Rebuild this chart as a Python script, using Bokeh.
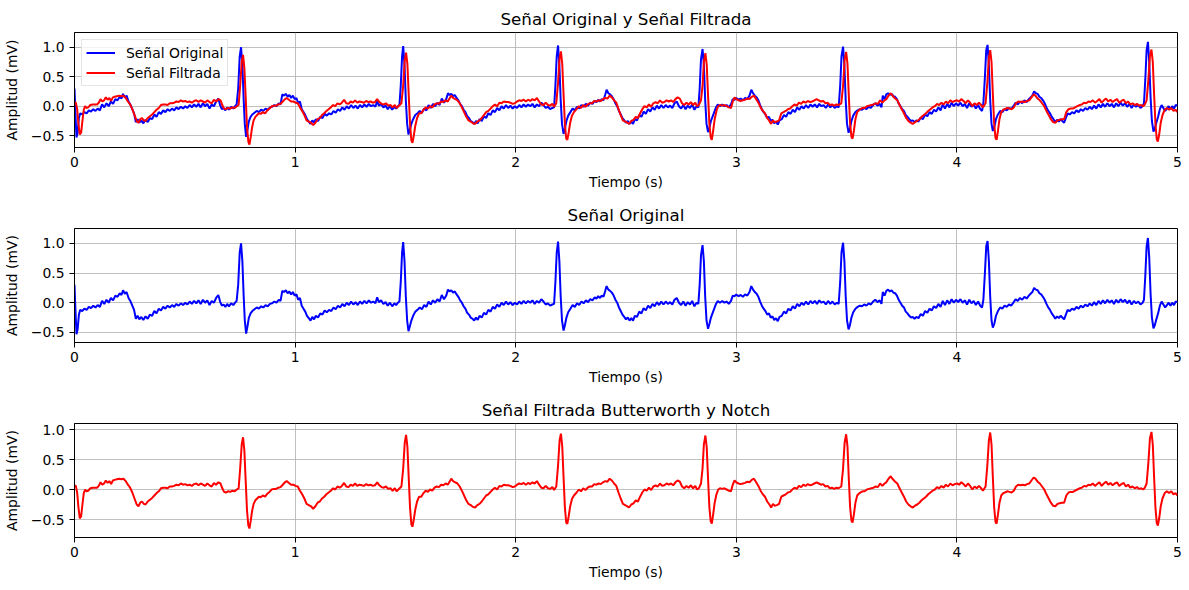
from bokeh.embed import file_html
from bokeh.layouts import column
from bokeh.models import CustomJSTickFormatter, FixedTicker, Range1d
from bokeh.plotting import figure
from bokeh.resources import INLINE

# (tiempo en s, amplitud en mV), leído punto a punto de la figura
original_pts = [
    (0.000, 0.30), (0.004, -0.10), (0.009, -0.53), (0.014, -0.45), (0.020, -0.20), (0.026, -0.12), (0.035, -0.14), (0.045, -0.10),
    (0.055, -0.12), (0.065, -0.07), (0.075, -0.09), (0.085, -0.05), (0.095, -0.08), (0.105, -0.04), (0.115, -0.07), (0.125, 0.03),
    (0.135, -0.02), (0.145, 0.05), (0.155, 0.00), (0.165, 0.08), (0.175, 0.04), (0.185, 0.12), (0.195, 0.10), (0.205, 0.16),
    (0.213, 0.13), (0.220, 0.21), (0.228, 0.15), (0.236, 0.18), (0.245, 0.08), (0.253, 0.03), (0.262, -0.05), (0.270, -0.12),
    (0.278, -0.27), (0.286, -0.22), (0.294, -0.28), (0.303, -0.24), (0.312, -0.29), (0.322, -0.23), (0.332, -0.27), (0.342, -0.20),
    (0.352, -0.22), (0.362, -0.14), (0.372, -0.18), (0.382, -0.10), (0.392, -0.13), (0.402, -0.07), (0.412, -0.10), (0.422, -0.05),
    (0.432, -0.08), (0.442, -0.04), (0.452, -0.07), (0.462, -0.02), (0.472, -0.05), (0.482, -0.01), (0.492, -0.04), (0.502, 0.00),
    (0.512, -0.03), (0.522, 0.02), (0.532, -0.02), (0.542, 0.03), (0.552, -0.01), (0.562, 0.04), (0.572, -0.02), (0.582, 0.05),
    (0.592, 0.00), (0.602, 0.04), (0.612, -0.04), (0.622, 0.03), (0.632, 0.00), (0.642, 0.08), (0.652, 0.13), (0.660, 0.02),
    (0.668, -0.05), (0.676, -0.03), (0.684, -0.07), (0.692, -0.02), (0.700, -0.06), (0.710, -0.01), (0.720, -0.04), (0.728, 0.00),
    (0.735, 0.03), (0.742, 0.30), (0.749, 0.85), (0.755, 1.00), (0.761, 0.70), (0.767, 0.10), (0.772, -0.30), (0.778, -0.52),
    (0.784, -0.40), (0.790, -0.26), (0.798, -0.18), (0.806, -0.14), (0.816, -0.11), (0.826, -0.08), (0.836, -0.10), (0.846, -0.06),
    (0.856, -0.08), (0.866, -0.04), (0.876, -0.06), (0.886, -0.02), (0.896, -0.01), (0.906, 0.02), (0.916, 0.00), (0.926, 0.05),
    (0.934, 0.03), (0.942, 0.20), (0.950, 0.18), (0.958, 0.21), (0.966, 0.16), (0.974, 0.19), (0.982, 0.14), (0.990, 0.18),
    (0.998, 0.12), (1.006, 0.14), (1.014, 0.05), (1.022, 0.08), (1.030, -0.05), (1.038, -0.10), (1.046, -0.15), (1.054, -0.22),
    (1.062, -0.26), (1.070, -0.30), (1.078, -0.24), (1.086, -0.28), (1.094, -0.22), (1.104, -0.25), (1.114, -0.18), (1.124, -0.20),
    (1.134, -0.13), (1.144, -0.16), (1.154, -0.12), (1.164, -0.14), (1.174, -0.08), (1.184, -0.11), (1.194, -0.05), (1.204, -0.08),
    (1.214, -0.02), (1.224, -0.06), (1.234, 0.00), (1.244, -0.04), (1.254, 0.02), (1.264, -0.03), (1.274, 0.01), (1.284, -0.04),
    (1.294, 0.02), (1.304, -0.02), (1.314, 0.03), (1.324, -0.01), (1.334, 0.04), (1.344, 0.00), (1.354, 0.02), (1.364, -0.01),
    (1.372, 0.09), (1.380, 0.01), (1.390, 0.04), (1.400, -0.02), (1.410, 0.01), (1.420, -0.05), (1.430, 0.00), (1.440, -0.06),
    (1.450, -0.01), (1.458, -0.04), (1.466, 0.00), (1.473, 0.02), (1.479, 0.35), (1.485, 0.85), (1.490, 1.02), (1.496, 0.70),
    (1.502, 0.10), (1.508, -0.30), (1.514, -0.48), (1.520, -0.40), (1.527, -0.30), (1.535, -0.22), (1.545, -0.15), (1.555, -0.12),
    (1.565, -0.08), (1.575, -0.11), (1.585, -0.04), (1.595, -0.07), (1.605, 0.02), (1.615, -0.03), (1.625, 0.04), (1.635, 0.00),
    (1.645, 0.06), (1.655, 0.02), (1.665, 0.13), (1.675, 0.06), (1.685, 0.12), (1.693, 0.22), (1.700, 0.19), (1.708, 0.21),
    (1.716, 0.17), (1.724, 0.19), (1.732, 0.14), (1.740, 0.10), (1.748, 0.04), (1.756, 0.00), (1.764, -0.06), (1.772, -0.10),
    (1.780, -0.17), (1.788, -0.20), (1.796, -0.25), (1.804, -0.27), (1.812, -0.30), (1.820, -0.25), (1.828, -0.29), (1.836, -0.22),
    (1.846, -0.25), (1.856, -0.17), (1.866, -0.20), (1.876, -0.12), (1.886, -0.15), (1.896, -0.07), (1.906, -0.10), (1.916, -0.03),
    (1.926, -0.07), (1.936, 0.00), (1.946, -0.04), (1.956, 0.02), (1.966, -0.03), (1.976, 0.01), (1.986, -0.04), (1.996, 0.00),
    (2.006, -0.03), (2.016, 0.02), (2.026, -0.02), (2.036, 0.03), (2.046, -0.01), (2.056, 0.03), (2.066, 0.00), (2.076, 0.04),
    (2.086, -0.02), (2.096, 0.03), (2.106, 0.00), (2.116, 0.06), (2.126, 0.02), (2.136, -0.03), (2.146, -0.01), (2.156, -0.05),
    (2.166, -0.03), (2.174, -0.02), (2.180, 0.35), (2.186, 0.85), (2.192, 1.03), (2.198, 0.70), (2.204, 0.10), (2.210, -0.30),
    (2.217, -0.47), (2.223, -0.38), (2.230, -0.25), (2.238, -0.16), (2.248, -0.10), (2.258, -0.04), (2.268, -0.07), (2.278, -0.01),
    (2.288, -0.04), (2.298, 0.02), (2.308, -0.01), (2.318, 0.04), (2.328, 0.01), (2.338, 0.06), (2.348, 0.04), (2.358, 0.09),
    (2.366, 0.07), (2.374, 0.11), (2.382, 0.08), (2.390, 0.12), (2.398, 0.10), (2.406, 0.20), (2.412, 0.28), (2.420, 0.22),
    (2.428, 0.20), (2.436, 0.17), (2.444, 0.12), (2.452, 0.05), (2.460, 0.00), (2.468, -0.08), (2.476, -0.14), (2.484, -0.20),
    (2.492, -0.24), (2.500, -0.28), (2.508, -0.25), (2.516, -0.30), (2.524, -0.26), (2.532, -0.30), (2.540, -0.22), (2.550, -0.24),
    (2.560, -0.15), (2.570, -0.18), (2.580, -0.09), (2.590, -0.13), (2.600, -0.05), (2.610, -0.09), (2.620, -0.02), (2.630, -0.06),
    (2.640, 0.01), (2.650, -0.04), (2.660, 0.02), (2.670, -0.03), (2.680, 0.02), (2.690, -0.02), (2.700, 0.01), (2.710, -0.03),
    (2.720, 0.05), (2.730, 0.08), (2.740, 0.00), (2.750, -0.04), (2.760, 0.02), (2.770, -0.05), (2.780, 0.01), (2.790, -0.03),
    (2.800, 0.03), (2.810, -0.06), (2.820, 0.00), (2.828, -0.02), (2.834, 0.30), (2.840, 0.80), (2.847, 0.97), (2.853, 0.70),
    (2.859, 0.10), (2.865, -0.30), (2.872, -0.44), (2.878, -0.36), (2.885, -0.25), (2.892, -0.18), (2.900, -0.10), (2.908, -0.02),
    (2.916, 0.03), (2.926, 0.00), (2.936, 0.03), (2.946, 0.00), (2.956, 0.02), (2.966, -0.02), (2.976, 0.03), (2.984, 0.12),
    (2.992, 0.11), (3.000, 0.14), (3.010, 0.11), (3.020, 0.13), (3.030, 0.10), (3.040, 0.14), (3.050, 0.12), (3.060, 0.18),
    (3.068, 0.28), (3.076, 0.22), (3.084, 0.18), (3.092, 0.15), (3.100, 0.10), (3.108, 0.02), (3.116, -0.05), (3.124, -0.10),
    (3.132, -0.14), (3.140, -0.20), (3.148, -0.18), (3.156, -0.25), (3.164, -0.23), (3.172, -0.29), (3.180, -0.26), (3.188, -0.31),
    (3.196, -0.24), (3.206, -0.22), (3.216, -0.15), (3.226, -0.18), (3.236, -0.10), (3.246, -0.13), (3.256, -0.06), (3.266, -0.10),
    (3.276, -0.02), (3.286, -0.06), (3.296, 0.00), (3.306, -0.04), (3.316, 0.02), (3.326, -0.03), (3.336, 0.03), (3.346, -0.01),
    (3.356, 0.03), (3.366, -0.02), (3.376, 0.04), (3.386, 0.00), (3.396, 0.02), (3.406, -0.03), (3.416, 0.03), (3.426, -0.02),
    (3.436, 0.02), (3.446, -0.03), (3.456, 0.00), (3.464, -0.02), (3.471, 0.35), (3.477, 0.85), (3.484, 1.01), (3.490, 0.70),
    (3.496, 0.10), (3.502, -0.30), (3.509, -0.45), (3.515, -0.38), (3.522, -0.25), (3.530, -0.16), (3.540, -0.10), (3.550, -0.07),
    (3.560, -0.05), (3.570, -0.06), (3.580, -0.03), (3.590, -0.05), (3.600, -0.01), (3.610, -0.03), (3.620, 0.02), (3.630, 0.05),
    (3.640, 0.01), (3.650, 0.04), (3.658, -0.02), (3.664, 0.18), (3.672, 0.12), (3.680, 0.20), (3.688, 0.22), (3.696, 0.19),
    (3.704, 0.21), (3.712, 0.17), (3.720, 0.16), (3.728, 0.12), (3.736, 0.05), (3.744, 0.00), (3.752, -0.05), (3.760, -0.08),
    (3.768, -0.15), (3.776, -0.18), (3.784, -0.22), (3.792, -0.25), (3.800, -0.24), (3.808, -0.27), (3.816, -0.24), (3.826, -0.26),
    (3.836, -0.19), (3.846, -0.22), (3.856, -0.14), (3.866, -0.17), (3.876, -0.10), (3.886, -0.13), (3.896, -0.06), (3.906, -0.09),
    (3.916, -0.02), (3.926, -0.07), (3.936, 0.03), (3.946, -0.04), (3.956, 0.04), (3.966, -0.02), (3.976, 0.06), (3.986, 0.00),
    (3.996, 0.05), (4.006, 0.01), (4.016, 0.06), (4.026, 0.00), (4.036, 0.04), (4.046, -0.03), (4.056, 0.05), (4.066, -0.01),
    (4.076, 0.03), (4.086, -0.04), (4.096, 0.02), (4.106, -0.05), (4.114, -0.08), (4.120, 0.05), (4.127, 0.50), (4.133, 0.95),
    (4.139, 1.04), (4.145, 0.70), (4.151, 0.10), (4.157, -0.30), (4.163, -0.42), (4.170, -0.35), (4.177, -0.22), (4.186, -0.14),
    (4.196, -0.08), (4.206, -0.10), (4.216, -0.05), (4.226, -0.07), (4.236, -0.03), (4.246, -0.05), (4.256, 0.00), (4.266, 0.06),
    (4.276, 0.03), (4.286, 0.08), (4.296, 0.05), (4.306, 0.10), (4.316, 0.07), (4.326, 0.12), (4.334, 0.15), (4.342, 0.18),
    (4.350, 0.25), (4.358, 0.22), (4.366, 0.21), (4.374, 0.16), (4.382, 0.14), (4.390, 0.10), (4.398, 0.05), (4.406, -0.02),
    (4.414, -0.08), (4.422, -0.12), (4.430, -0.18), (4.438, -0.22), (4.446, -0.27), (4.454, -0.23), (4.462, -0.26), (4.470, -0.22),
    (4.478, -0.25), (4.486, -0.28), (4.494, -0.20), (4.502, -0.12), (4.512, -0.14), (4.522, -0.10), (4.532, -0.12), (4.542, -0.07),
    (4.552, -0.10), (4.562, -0.05), (4.572, -0.08), (4.582, -0.03), (4.592, -0.06), (4.602, -0.01), (4.612, -0.05), (4.622, 0.01),
    (4.632, -0.04), (4.642, 0.03), (4.652, -0.02), (4.662, 0.04), (4.672, -0.01), (4.682, 0.05), (4.692, 0.00), (4.702, 0.04),
    (4.712, -0.02), (4.722, 0.05), (4.732, 0.00), (4.742, 0.06), (4.752, 0.01), (4.762, 0.05), (4.772, -0.01), (4.782, 0.04),
    (4.792, -0.03), (4.802, 0.03), (4.812, -0.01), (4.822, 0.02), (4.832, -0.03), (4.842, 0.00), (4.848, 0.05), (4.854, 0.45),
    (4.860, 0.95), (4.866, 1.09), (4.872, 0.75), (4.878, 0.15), (4.884, -0.25), (4.891, -0.43), (4.897, -0.38), (4.904, -0.28),
    (4.912, -0.18), (4.920, -0.05), (4.928, 0.02), (4.936, -0.03), (4.944, -0.08), (4.952, -0.04), (4.960, 0.00), (4.968, -0.05),
    (4.976, 0.00), (4.984, -0.04), (4.992, 0.02), (5.000, 0.01),
]

filtered_pts = [
    (0.000, 0.07), (0.006, 0.06), (0.012, -0.05), (0.018, -0.30), (0.024, -0.48), (0.030, -0.45), (0.036, -0.25), (0.042, -0.06),
    (0.048, 0.00), (0.054, -0.03), (0.062, -0.02), (0.072, 0.02), (0.082, 0.03), (0.092, 0.03), (0.102, 0.03), (0.110, 0.06),
    (0.118, 0.12), (0.126, 0.08), (0.134, 0.10), (0.142, 0.15), (0.150, 0.11), (0.158, 0.14), (0.166, 0.09), (0.174, 0.15),
    (0.182, 0.16), (0.192, 0.17), (0.202, 0.18), (0.212, 0.17), (0.222, 0.18), (0.232, 0.14), (0.242, 0.08), (0.252, 0.03),
    (0.262, -0.05), (0.272, -0.15), (0.282, -0.25), (0.290, -0.28), (0.298, -0.22), (0.306, -0.20), (0.314, -0.24), (0.322, -0.25),
    (0.332, -0.20), (0.342, -0.17), (0.352, -0.14), (0.362, -0.10), (0.372, -0.06), (0.382, -0.03), (0.392, 0.02), (0.402, 0.03),
    (0.412, 0.03), (0.422, 0.02), (0.432, 0.05), (0.442, 0.05), (0.452, 0.06), (0.462, 0.08), (0.472, 0.07), (0.482, 0.10),
    (0.492, 0.08), (0.502, 0.09), (0.512, 0.07), (0.522, 0.08), (0.532, 0.06), (0.542, 0.09), (0.552, 0.10), (0.562, 0.07),
    (0.572, 0.10), (0.582, 0.08), (0.592, 0.06), (0.602, 0.10), (0.612, 0.07), (0.622, 0.05), (0.632, 0.11), (0.642, 0.08),
    (0.652, 0.12), (0.662, 0.10), (0.670, 0.02), (0.678, -0.04), (0.686, -0.05), (0.696, -0.03), (0.706, -0.04), (0.716, -0.02),
    (0.726, -0.03), (0.736, 0.00), (0.744, 0.02), (0.751, 0.35), (0.758, 0.75), (0.764, 0.87), (0.770, 0.65), (0.776, 0.15),
    (0.782, -0.35), (0.788, -0.60), (0.793, -0.65), (0.799, -0.52), (0.805, -0.36), (0.812, -0.24), (0.820, -0.18), (0.828, -0.15),
    (0.836, -0.12), (0.844, -0.13), (0.854, -0.10), (0.864, -0.12), (0.874, -0.07), (0.884, -0.04), (0.894, 0.00), (0.904, 0.01),
    (0.914, 0.01), (0.924, 0.03), (0.934, 0.04), (0.944, 0.08), (0.954, 0.12), (0.962, 0.14), (0.972, 0.11), (0.982, 0.08),
    (0.992, 0.08), (1.002, 0.06), (1.012, 0.05), (1.022, -0.02), (1.032, -0.08), (1.042, -0.15), (1.052, -0.24), (1.062, -0.26),
    (1.072, -0.28), (1.082, -0.32), (1.092, -0.28), (1.102, -0.22), (1.112, -0.20), (1.122, -0.15), (1.132, -0.12), (1.142, -0.08),
    (1.152, -0.05), (1.162, -0.02), (1.172, 0.02), (1.182, 0.00), (1.192, 0.05), (1.202, 0.03), (1.212, 0.06), (1.222, 0.11),
    (1.232, 0.05), (1.242, 0.04), (1.252, 0.08), (1.262, 0.06), (1.272, 0.10), (1.282, 0.06), (1.292, 0.08), (1.302, 0.07),
    (1.312, 0.06), (1.322, 0.09), (1.332, 0.07), (1.342, 0.08), (1.352, 0.06), (1.362, 0.07), (1.372, 0.12), (1.382, 0.07),
    (1.392, 0.04), (1.402, 0.03), (1.412, 0.05), (1.422, 0.01), (1.432, 0.02), (1.442, -0.02), (1.452, 0.02), (1.460, -0.03),
    (1.468, 0.00), (1.482, 0.05), (1.490, 0.35), (1.497, 0.78), (1.503, 0.91), (1.509, 0.72), (1.515, 0.20), (1.521, -0.30),
    (1.527, -0.58), (1.532, -0.62), (1.538, -0.50), (1.545, -0.33), (1.553, -0.20), (1.562, -0.12), (1.572, -0.12), (1.582, -0.06),
    (1.592, -0.02), (1.602, -0.04), (1.612, 0.00), (1.622, -0.02), (1.632, 0.03), (1.642, 0.05), (1.652, 0.04), (1.662, 0.08),
    (1.672, 0.07), (1.682, 0.10), (1.692, 0.08), (1.700, 0.13), (1.708, 0.18), (1.716, 0.14), (1.726, 0.12), (1.736, 0.10),
    (1.746, 0.05), (1.756, -0.02), (1.766, -0.10), (1.776, -0.18), (1.786, -0.24), (1.796, -0.26), (1.806, -0.29), (1.816, -0.30),
    (1.826, -0.26), (1.836, -0.24), (1.846, -0.20), (1.856, -0.15), (1.866, -0.10), (1.876, -0.08), (1.886, -0.04), (1.896, 0.00),
    (1.906, 0.03), (1.916, 0.00), (1.926, 0.06), (1.936, 0.05), (1.946, 0.08), (1.956, 0.07), (1.966, 0.07), (1.976, 0.06),
    (1.986, 0.04), (1.996, 0.05), (2.006, 0.08), (2.016, 0.10), (2.026, 0.09), (2.036, 0.11), (2.046, 0.08), (2.056, 0.11),
    (2.066, 0.09), (2.076, 0.12), (2.086, 0.10), (2.096, 0.14), (2.106, 0.08), (2.116, 0.03), (2.126, 0.02), (2.136, 0.06),
    (2.146, 0.02), (2.156, 0.01), (2.166, 0.04), (2.174, -0.01), (2.184, 0.05), (2.192, 0.40), (2.199, 0.82), (2.205, 0.93),
    (2.211, 0.72), (2.217, 0.20), (2.223, -0.30), (2.229, -0.55), (2.234, -0.57), (2.240, -0.45), (2.247, -0.28), (2.255, -0.16),
    (2.264, -0.10), (2.276, -0.05), (2.286, 0.00), (2.296, -0.03), (2.306, 0.02), (2.316, -0.01), (2.326, 0.03), (2.336, 0.05),
    (2.346, 0.05), (2.356, 0.09), (2.366, 0.08), (2.376, 0.10), (2.386, 0.09), (2.396, 0.12), (2.406, 0.14), (2.416, 0.13),
    (2.426, 0.18), (2.436, 0.15), (2.446, 0.10), (2.456, 0.06), (2.466, -0.05), (2.476, -0.15), (2.486, -0.24), (2.496, -0.26),
    (2.506, -0.28), (2.514, -0.30), (2.524, -0.25), (2.534, -0.23), (2.544, -0.18), (2.554, -0.20), (2.564, -0.12), (2.574, -0.05),
    (2.584, 0.00), (2.594, -0.02), (2.604, 0.03), (2.614, -0.01), (2.624, 0.05), (2.634, 0.07), (2.644, 0.05), (2.654, 0.10),
    (2.664, 0.06), (2.674, 0.07), (2.684, 0.10), (2.694, 0.08), (2.704, 0.10), (2.714, 0.07), (2.724, 0.12), (2.734, 0.15),
    (2.744, 0.13), (2.754, 0.05), (2.764, 0.02), (2.774, 0.06), (2.784, 0.03), (2.794, 0.07), (2.804, 0.02), (2.814, 0.06),
    (2.822, 0.00), (2.830, 0.02), (2.840, 0.10), (2.847, 0.35), (2.853, 0.75), (2.860, 0.90), (2.866, 0.70), (2.872, 0.18),
    (2.878, -0.30), (2.884, -0.53), (2.889, -0.57), (2.895, -0.42), (2.902, -0.22), (2.910, -0.08), (2.918, 0.00), (2.926, 0.02),
    (2.936, 0.01), (2.946, 0.02), (2.956, 0.00), (2.966, -0.02), (2.976, -0.03), (2.984, 0.08), (2.992, 0.15), (3.000, 0.12),
    (3.010, 0.10), (3.020, 0.09), (3.030, 0.10), (3.040, 0.11), (3.050, 0.13), (3.060, 0.12), (3.070, 0.16), (3.080, 0.18),
    (3.090, 0.12), (3.100, 0.06), (3.110, -0.02), (3.120, -0.08), (3.130, -0.12), (3.140, -0.20), (3.150, -0.25), (3.158, -0.30),
    (3.166, -0.24), (3.174, -0.27), (3.184, -0.26), (3.194, -0.24), (3.204, -0.12), (3.214, -0.10), (3.224, -0.08), (3.234, -0.05),
    (3.244, -0.04), (3.254, 0.00), (3.264, 0.03), (3.274, 0.01), (3.284, 0.06), (3.294, 0.04), (3.304, 0.08), (3.314, 0.06),
    (3.324, 0.09), (3.334, 0.07), (3.344, 0.08), (3.354, 0.10), (3.364, 0.12), (3.374, 0.10), (3.384, 0.08), (3.394, 0.09),
    (3.404, 0.05), (3.414, 0.06), (3.424, 0.02), (3.434, 0.03), (3.444, 0.01), (3.454, 0.03), (3.462, 0.02), (3.476, 0.05),
    (3.484, 0.35), (3.491, 0.78), (3.498, 0.92), (3.504, 0.72), (3.510, 0.18), (3.516, -0.30), (3.522, -0.52), (3.527, -0.55),
    (3.533, -0.42), (3.540, -0.22), (3.548, -0.10), (3.558, -0.06), (3.572, -0.03), (3.582, -0.03), (3.592, 0.00), (3.602, 0.01),
    (3.612, 0.02), (3.622, 0.03), (3.632, 0.05), (3.642, 0.04), (3.652, 0.10), (3.662, 0.06), (3.672, 0.10), (3.680, 0.12),
    (3.690, 0.18), (3.700, 0.22), (3.710, 0.17), (3.720, 0.13), (3.730, 0.10), (3.740, 0.02), (3.750, -0.05), (3.760, -0.12),
    (3.770, -0.20), (3.780, -0.25), (3.790, -0.28), (3.800, -0.30), (3.810, -0.27), (3.820, -0.25), (3.830, -0.22), (3.840, -0.18),
    (3.850, -0.15), (3.860, -0.12), (3.870, -0.08), (3.880, -0.05), (3.890, -0.02), (3.900, 0.00), (3.910, 0.04), (3.920, 0.02),
    (3.930, 0.06), (3.940, 0.03), (3.950, 0.08), (3.960, 0.05), (3.970, 0.10), (3.980, 0.07), (3.990, 0.09), (4.000, 0.10),
    (4.010, 0.08), (4.020, 0.12), (4.030, 0.09), (4.040, 0.05), (4.050, 0.10), (4.060, 0.06), (4.070, 0.00), (4.080, 0.05),
    (4.090, 0.02), (4.100, 0.06), (4.110, 0.02), (4.118, -0.02), (4.130, 0.05), (4.138, 0.40), (4.145, 0.82), (4.151, 0.95),
    (4.157, 0.75), (4.163, 0.20), (4.169, -0.30), (4.175, -0.54), (4.180, -0.57), (4.186, -0.42), (4.193, -0.22), (4.201, -0.10),
    (4.210, -0.06), (4.218, -0.05), (4.228, -0.03), (4.238, -0.04), (4.248, -0.05), (4.258, -0.02), (4.268, 0.05), (4.278, 0.08),
    (4.288, 0.07), (4.298, 0.08), (4.308, 0.07), (4.318, 0.09), (4.328, 0.10), (4.338, 0.15), (4.348, 0.20), (4.356, 0.18),
    (4.366, 0.13), (4.376, 0.10), (4.386, 0.05), (4.396, 0.00), (4.406, -0.08), (4.416, -0.15), (4.426, -0.22), (4.436, -0.27),
    (4.446, -0.28), (4.456, -0.24), (4.466, -0.23), (4.476, -0.22), (4.486, -0.22), (4.496, -0.10), (4.506, -0.05), (4.516, -0.04),
    (4.526, -0.04), (4.536, -0.02), (4.546, 0.00), (4.556, 0.02), (4.566, 0.03), (4.576, 0.06), (4.586, 0.05), (4.596, 0.08),
    (4.606, 0.07), (4.616, 0.10), (4.626, 0.06), (4.636, 0.09), (4.646, 0.12), (4.656, 0.06), (4.666, 0.10), (4.676, 0.13),
    (4.686, 0.08), (4.696, 0.11), (4.706, 0.07), (4.716, 0.10), (4.726, 0.12), (4.736, 0.06), (4.746, 0.09), (4.756, 0.11),
    (4.766, 0.05), (4.776, 0.08), (4.786, 0.03), (4.796, 0.05), (4.806, 0.02), (4.816, 0.04), (4.826, 0.01), (4.836, 0.02),
    (4.844, 0.00), (4.852, 0.03), (4.860, 0.10), (4.868, 0.45), (4.875, 0.85), (4.882, 0.96), (4.888, 0.75), (4.894, 0.20),
    (4.900, -0.30), (4.906, -0.56), (4.911, -0.60), (4.917, -0.48), (4.924, -0.28), (4.932, -0.15), (4.942, -0.06), (4.952, -0.03),
    (4.962, -0.06), (4.972, -0.03), (4.982, -0.08), (4.991, -0.06), (5.000, -0.10),
]

t_orig = [p[0] for p in original_pts]
v_orig = [p[1] for p in original_pts]
t_filt = [p[0] for p in filtered_pts]
v_filt = [p[1] for p in filtered_pts]

x_ticks = [0, 1, 2, 3, 4, 5]
y_ticks = [-0.5, 0.0, 0.5, 1.0]

FONT = "DejaVu Sans"


def make_fig(title, y_lo, y_hi, top, bottom):
    p = figure(width=1189, height=top + 115 + bottom,
               x_range=Range1d(0, 5), y_range=Range1d(y_lo, y_hi),
               toolbar_location=None, output_backend="svg",
               min_border_left=73, min_border_right=12,
               min_border_top=top, min_border_bottom=bottom)
    p.title.text = title
    p.title.align = "center"
    p.title.text_font = FONT
    p.title.text_font_size = "16.7px"
    p.title.text_font_style = "normal"
    p.title.text_color = "black"
    p.title.standoff = 8
    p.outline_line_color = "black"
    p.outline_line_width = 1
    p.grid.grid_line_color = "#b0b0b0"
    p.grid.grid_line_width = 0.8
    p.xaxis.ticker = FixedTicker(ticks=x_ticks)
    p.yaxis.ticker = FixedTicker(ticks=y_ticks)
    p.yaxis.formatter = CustomJSTickFormatter(
        code="return tick.toFixed(1).replace('-', '\u2212');")
    p.xaxis.axis_label = "Tiempo (s)"
    p.yaxis.axis_label = "Amplitud (mV)"
    for ax in p.axis:
        ax.axis_line_color = "black"
        ax.major_tick_line_color = "black"
        ax.major_tick_out = 5
        ax.major_tick_in = 0
        ax.minor_tick_line_color = None
        ax.major_label_text_font = FONT
        ax.major_label_text_font_size = "13.9px"
        ax.major_label_text_color = "black"
        ax.axis_label_text_font = FONT
        ax.axis_label_text_font_size = "13.9px"
        ax.axis_label_text_font_style = "normal"
        ax.axis_label_text_color = "black"
    p.xaxis.major_label_standoff = 4
    p.xaxis.axis_label_standoff = 4
    p.yaxis.major_label_standoff = 5
    p.yaxis.axis_label_standoff = 8
    return p


p1 = make_fig("Señal Original y Señal Filtrada", -0.70, 1.25, 32, 51)
p1.line(t_orig, v_orig, color="blue", line_width=2, legend_label="Señal Original")
p1.line(t_filt, v_filt, color="red", line_width=2, legend_label="Señal Filtrada")
p1.legend.location = "top_left"
p1.legend.margin = 7
p1.legend.padding = 4
p1.legend.spacing = 3
p1.legend.glyph_width = 29
p1.legend.glyph_height = 17
p1.legend.label_height = 17
p1.legend.label_standoff = 11
p1.legend.label_text_font = FONT
p1.legend.label_text_font_size = "13.9px"
p1.legend.label_text_color = "black"
p1.legend.border_line_color = "#cccccc"
p1.legend.border_line_width = 1
p1.legend.background_fill_alpha = 0.8

p2 = make_fig("Señal Original", -0.67, 1.25, 29, 51)
p2.line(t_orig, v_orig, color="blue", line_width=2)

p3 = make_fig("Señal Filtrada Butterworth y Notch", -0.80, 1.10, 29, 53)
p3.line(t_filt, v_filt, color="red", line_width=2)

layout = column(p1, p2, p3)

open("out.html", "w", encoding="utf-8").write(file_html(layout, INLINE))
